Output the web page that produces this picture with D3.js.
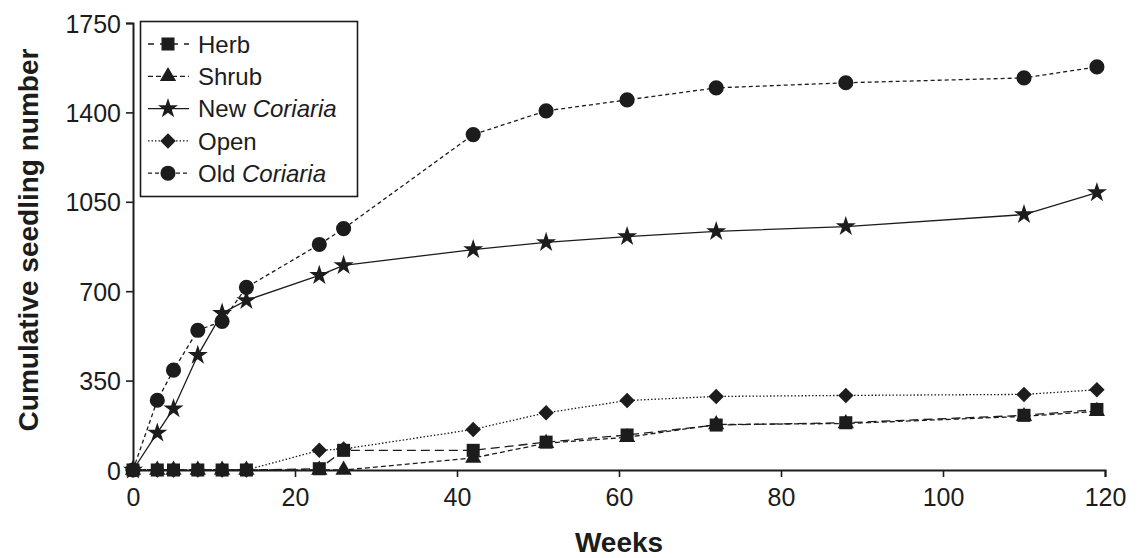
<!DOCTYPE html>
<html>
<head>
<meta charset="utf-8">
<script src="https://cdn.jsdelivr.net/npm/d3@7"></script>
<style>
  body { margin: 0; background: #fff; }
  svg { display: block; font-family: "Liberation Sans", Arial, sans-serif; }
</style>
</head>
<body>
<svg id="chart" width="1145" height="558"></svg>
<script>
// weeks at which seedlings were counted
const weeks = [0, 3, 5, 8, 11, 14, 23, 26, 42, 51, 61, 72, 88, 110, 119]

// cumulative seedling numbers
const herb        = [0, 0, 0, 0, 0, 0, 5, 77, 77, 109, 137, 176, 185, 214, 237]
const shrub       = [0, 0, 0, 0, 0, 0, 0, 0, 47, 105, 128, 178, 182, 210, 230]
const newCoriaria = [0, 145, 240, 449, 614, 664, 762, 801, 863, 891, 914, 934, 953, 1000, 1086]
const open        = [0, 0, 0, 0, 0, 0, 77, 82, 159, 224, 272, 288, 292, 296, 314]
const oldCoriaria = [0, 273, 391, 547, 582, 715, 883, 945, 1313, 1406, 1449, 1496, 1516, 1535, 1578]

const xTicks = [0, 20, 40, 60, 80, 100, 120]
const yTicks = [0, 350, 700, 1050, 1400, 1750]

const ink = '#1c1c1c'

// series description (order = legend order)
const series = [
  {name: 'Herb', italic: null, values: herb, shape: 'square', dash: '9,5'},
  {name: 'Shrub', italic: null, values: shrub, shape: 'triangle', dash: '5,3'},
  {name: 'New ', italic: 'Coriaria', values: newCoriaria, shape: 'star', dash: null},
  {name: 'Open', italic: null, values: open, shape: 'diamond', dash: '1.5,2'},
  {name: 'Old ', italic: 'Coriaria', values: oldCoriaria, shape: 'circle', dash: '4,3'}
]

const svg = d3.select('#chart')
const x = d3.scaleLinear().domain([0, 120]).range([133, 1105])
const y = d3.scaleLinear().domain([0, 1750]).range([470, 23])

function symbolFor(shape) {
  switch (shape) {
  case 'square':   return d3.symbol(d3.symbolSquare, 170)()
  case 'triangle': return d3.symbol(d3.symbolTriangle, 115)()
  case 'star':     return d3.symbol(d3.symbolStar, 125)()
  case 'diamond':  return d3.symbol(d3.symbolSquare, 120)()
  case 'circle':   return d3.symbol(d3.symbolCircle, 180)()
  }
}

// axes
const yAxis = svg.append('g')
  .attr('transform', `translate(${x(0)},0)`)
  .call(d3.axisLeft(y).tickValues(yTicks).tickFormat(d3.format('d'))
    .tickSizeOuter(0).tickSize(7).tickPadding(5))
const xAxis = svg.append('g')
  .attr('transform', `translate(0,${y(0)})`)
  .call(d3.axisBottom(x).tickValues(xTicks).tickFormat(d3.format('d'))
    .tickSizeOuter(0).tickSize(7).tickPadding(8))

;[xAxis, yAxis].forEach(g => {
  g.select('.domain').attr('stroke', ink).attr('stroke-width', 2)
  g.selectAll('.tick line').attr('stroke', ink).attr('stroke-width', 1.6)
  g.selectAll('.tick text').attr('fill', ink).style('font-size', '25px')
})
xAxis.selectAll('.tick text').attr('dy', '0.85em')
yAxis.selectAll('.tick text').attr('dy', '0.36em')

// axis titles
svg.append('text')
  .attr('x', x(60)).attr('y', 552)
  .attr('text-anchor', 'middle')
  .attr('fill', ink)
  .style('font-size', '28px').style('font-weight', 'bold')
  .text('Weeks')
svg.append('text')
  .attr('transform', `translate(38,240) rotate(-90)`)
  .attr('text-anchor', 'middle')
  .attr('fill', ink)
  .style('font-size', '28px').style('font-weight', 'bold')
  .text('Cumulative seedling number')

// lines
const line = d3.line().x((d, i) => x(weeks[i])).y(d => y(d))
const plot = svg.append('g')
const drawOrder = [4, 2, 3, 1, 0]
drawOrder.forEach(k => {
  const s = series[k]
  plot.append('path')
    .datum(s.values)
    .attr('d', line)
    .attr('fill', 'none')
    .attr('stroke', ink)
    .attr('stroke-width', 1.3)
    .attr('stroke-dasharray', s.dash)
})
drawOrder.forEach(k => {
  const s = series[k]
  plot.selectAll(null)
    .data(s.values)
    .enter()
    .append('path')
    .attr('d', symbolFor(s.shape))
    .attr('transform', (d, i) => `translate(${x(weeks[i])},${y(d)})` + (s.shape == 'diamond' ? ' rotate(45)' : ''))
    .attr('fill', ink)
})

// legend
const legend = svg.append('g')
legend.append('rect')
  .attr('x', 140.5).attr('y', 21.5)
  .attr('width', 217).attr('height', 175)
  .attr('fill', '#fff')
  .attr('stroke', ink).attr('stroke-width', 1.6)

series.forEach((s, i) => {
  const ly = 44 + i * 32.3
  const g = legend.append('g').attr('transform', `translate(0,${ly})`)
  g.append('line')
    .attr('x1', 148).attr('x2', 189)
    .attr('y1', 0).attr('y2', 0)
    .attr('stroke', ink).attr('stroke-width', 1.3)
    .attr('stroke-dasharray', s.dash ? (s.shape == 'square' ? '6,6' : s.dash) : null)
  g.append('path')
    .attr('d', symbolFor(s.shape))
    .attr('transform', 'translate(168,0)' + (s.shape == 'diamond' ? ' rotate(45)' : ''))
    .attr('fill', ink)
  const t = g.append('text')
    .attr('x', 198).attr('y', 0).attr('dy', '0.36em')
    .attr('fill', ink)
    .style('font-size', '24px')
  t.append('tspan').text(s.name)
  if (s.italic) t.append('tspan').style('font-style', 'italic').text(s.italic)
})
</script>
</body>
</html>
